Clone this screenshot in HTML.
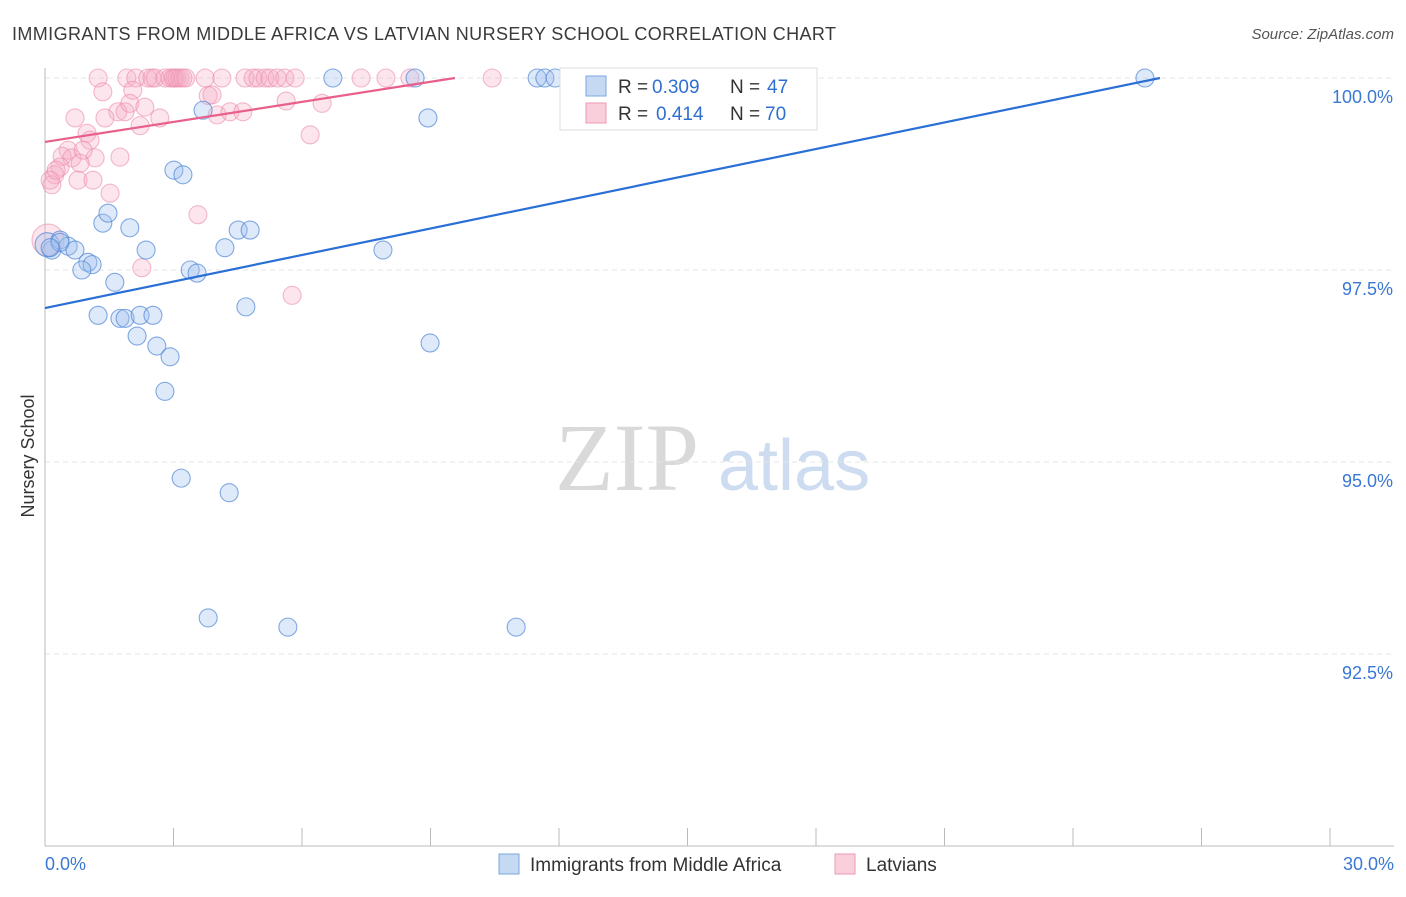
<!DOCTYPE html>
<html><head><meta charset="utf-8"><style>
body{margin:0;background:#fff;font-family:"Liberation Sans",sans-serif}
svg text{font-family:"Liberation Sans",sans-serif}
</style></head><body>
<svg id="chart" width="1406" height="892" xmlns="http://www.w3.org/2000/svg">
<text x="12" y="40" font-size="18" fill="#3a3a3a" textLength="824">IMMIGRANTS FROM MIDDLE AFRICA VS LATVIAN NURSERY SCHOOL CORRELATION CHART</text>
<text x="1394" y="39" font-size="15" fill="#555" font-style="italic" text-anchor="end">Source: ZipAtlas.com</text>
<text x="34" y="456" font-size="18" fill="#333" text-anchor="middle" transform="rotate(-90 34 456)">Nursery School</text>
<g>
<text x="555" y="490" font-size="96" fill="#d9d9d9" font-family="Liberation Serif" style="font-family:'Liberation Serif',serif">ZIP</text>
<text x="718" y="490" font-size="72" fill="#cddcf0">atlas</text>
</g>
<g id="grid"></g>
<g id="axes"></g>
<g id="marks"></g>
<g>
<rect x="560" y="68" width="257" height="62" fill="#fff" stroke="#ddd"/>
<rect x="586" y="76" width="20" height="20" fill="#c5d9f3" stroke="#7aa6e0"/>
<text x="618" y="93" font-size="19" fill="#333">R =</text>
<text x="652" y="93" font-size="19" fill="#2f6fd0">0.309</text>
<text x="730" y="93" font-size="19" fill="#333">N =</text>
<text x="767" y="93" font-size="19" fill="#2f6fd0">47</text>
<rect x="586" y="103" width="20" height="20" fill="#f9cfdc" stroke="#ee9ab3"/>
<text x="618" y="120" font-size="19" fill="#333">R =</text>
<text x="656" y="120" font-size="19" fill="#2f6fd0">0.414</text>
<text x="730" y="120" font-size="19" fill="#333">N =</text>
<text x="765" y="120" font-size="19" fill="#2f6fd0">70</text>
</g>
<g>
<rect x="499" y="854" width="20" height="20" fill="#c5d9f3" stroke="#7aa6e0"/>
<text x="530" y="871" font-size="19" fill="#333">Immigrants from Middle Africa</text>
<rect x="835" y="854" width="20" height="20" fill="#f9cfdc" stroke="#ee9ab3"/>
<text x="866" y="871" font-size="19" fill="#333">Latvians</text>
</g>
</svg>
<script>
const yTicks=[100,97.5,95,92.5];
const yTickLabels=["100.0%","97.5%","95.0%","92.5%"];
const xTickLabels=["0.0%","30.0%"];
const blueX=[0.16,0.05,0.35,0.54,0.70,1.00,1.10,0.86,1.63,1.24,1.75,1.87,2.22,2.52,2.15,2.61,2.92,2.80,3.18,4.30,3.81,5.67,11.00,8.99,7.89,4.69,3.39,3.55,4.20,4.51,4.79,2.36,1.98,1.35,1.47,3.01,3.22,3.69,6.72,8.64,8.94,11.49,11.67,11.91,25.68,0.35,0.12];
const blueY=[97.76,97.83,97.89,97.81,97.76,97.60,97.57,97.50,97.34,96.91,96.87,96.87,96.91,96.91,96.64,96.51,96.37,95.92,94.79,94.60,92.97,92.85,92.85,96.55,97.76,97.02,97.50,97.46,97.79,98.02,98.02,97.76,98.05,98.11,98.24,98.80,98.74,99.58,100,100,99.48,100,100,100,100,97.86,97.79];
const pinkX=[1.24,1.91,2.12,2.40,2.50,2.57,2.80,2.92,2.99,3.03,3.08,3.15,3.22,3.29,3.74,4.13,4.67,4.86,4.97,5.14,5.25,5.42,5.60,5.84,7.38,7.96,8.52,10.44,14.43,1.35,2.05,1.70,1.87,1.98,2.33,2.68,2.22,1.40,0.70,0.98,1.05,6.19,3.81,3.90,4.02,4.32,4.62,5.63,6.47,0.54,0.40,0.63,1.17,1.75,0.89,0.82,0.35,0.23,0.16,0.77,1.12,1.52,3.57,2.26,5.77,0.07,0.12,0.26];
const pinkY=[100,100,100,100,100,100,100,100,100,100,100,100,100,100,100,100,100,100,100,100,100,100,100,100,100,100,100,100,100,99.82,99.84,99.56,99.56,99.67,99.62,99.48,99.38,99.48,99.48,99.28,99.19,99.26,99.77,99.78,99.52,99.56,99.56,99.70,99.67,99.06,98.98,98.96,98.96,98.97,99.06,98.89,98.84,98.74,98.61,98.67,98.67,98.50,98.22,97.53,97.17,97.89,98.67,98.80];
const blueTrend=[[0,97.005],[26.03,100]];
const pinkTrend=[[0,99.167],[9.57,100]];
const NS="http://www.w3.org/2000/svg";
const X=v=>45+v/30*1285, Y=v=>78+(100-v)/2.5*192;
function mk(t,a,p){const e=document.createElementNS(NS,t);for(const k in a)e.setAttribute(k,a[k]);document.getElementById(p).appendChild(e);return e;}
yTicks.forEach((t,i)=>{
 const l=mk('line',{x1:45,x2:1394,y1:Y(t),y2:Y(t),stroke:'#e4e4e4','stroke-dasharray':'5,4'},'grid');
 
 
 const tx=mk('text',{x:1393,y:Y(t)+25,'font-size':18,fill:'#3a78d4','text-anchor':'end'},'axes');
 tx.textContent=yTickLabels[i];
 
 
});
const ax=mk('line',{x1:45,x2:45,y1:68,y2:846,stroke:'#bbb'},'axes');


const bx=mk('line',{x1:45,x2:1394,y1:846,y2:846,stroke:'#bbb'},'axes');


for(let i=0;i<=10;i++){const t=mk('line',{x1:X(i*3),x2:X(i*3),y1:828,y2:846,stroke:'#bbb'},'axes');
 
 }
[[0,'start',45],[30,'end',1394]].forEach((d,i)=>{const t=mk('text',{x:d[2],y:870,'font-size':18,fill:'#3a78d4','text-anchor':d[1]},'axes');t.textContent=xTickLabels[i];
 
 });
pinkX.forEach((v,i)=>{const c=mk('circle',{cx:X(v),cy:Y(pinkY[i]),r:i==65?16:9,fill:'rgba(246,170,195,0.3)',stroke:'rgba(236,140,170,0.6)','stroke-width':1.1},'marks');
 
 });
blueX.forEach((v,i)=>{const c=mk('circle',{cx:X(v),cy:Y(blueY[i]),r:i==1?12:9,fill:'rgba(160,192,238,0.35)',stroke:'rgba(80,135,215,0.7)','stroke-width':1.1},'marks');
 
 });
const bl=mk('line',{x1:X(blueTrend[0][0]),y1:Y(blueTrend[0][1]),x2:X(blueTrend[1][0]),y2:Y(blueTrend[1][1]),stroke:'#2a6fd6','stroke-width':2.2},'marks');


const pl=mk('line',{x1:X(pinkTrend[0][0]),y1:Y(pinkTrend[0][1]),x2:X(pinkTrend[1][0]),y2:Y(pinkTrend[1][1]),stroke:'#e8608a','stroke-width':2.2},'marks');


</script>
</body></html>
